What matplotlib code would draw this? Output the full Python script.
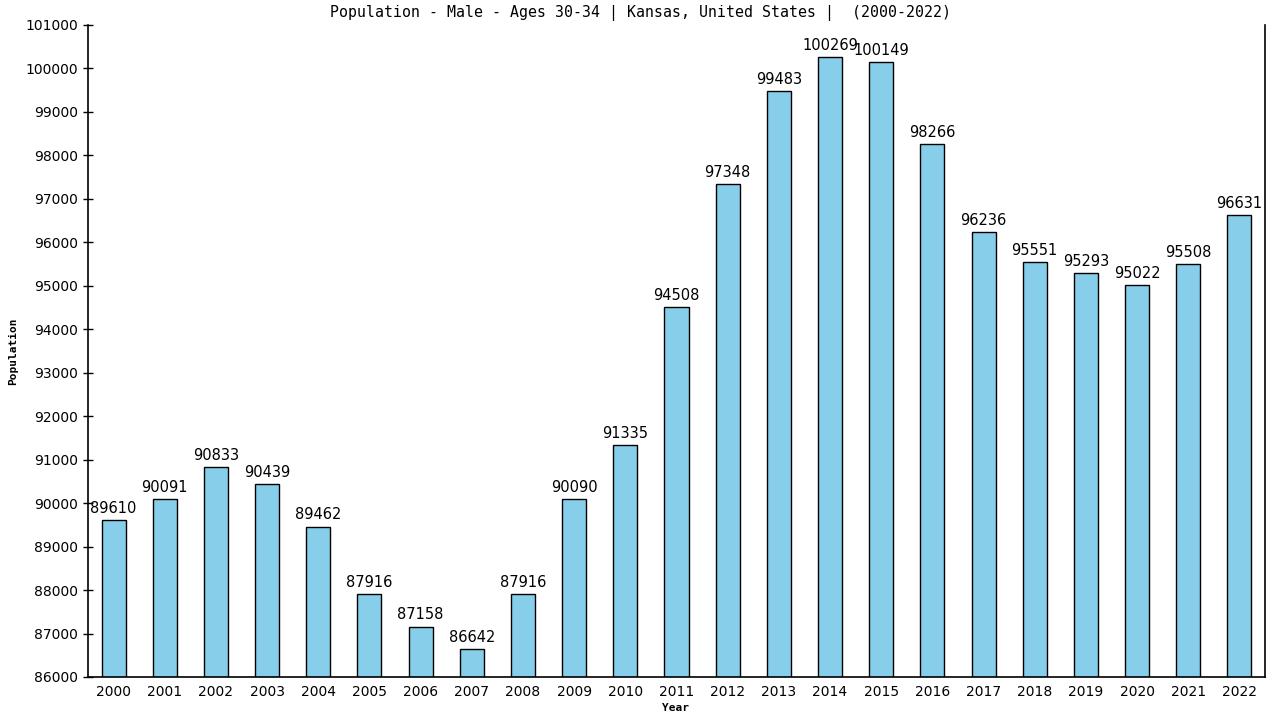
import matplotlib
matplotlib.use("Agg")
import matplotlib.pyplot as plt

years = [str(y) for y in range(2000, 2023)]
values = [89610, 90091, 90833, 90439, 89462, 87916, 87158, 86642, 87916, 90090,
          91335, 94508, 97348, 99483, 100269, 100149, 98266, 96236, 95551, 95293,
          95022, 95508, 96631]
yticks = list(range(86000, 101001, 1000))

fig = plt.figure(figsize=(12.8, 7.2), dpi=100)
ax = fig.add_axes([88/1280, 1-677/720, (1265-88)/1280, (677-25)/720])
x = list(range(len(years)))
ax.bar(x, values, width=0.47, color="#87ceeb", edgecolor="black", linewidth=1.0)
for xi, v in zip(x, values):
    ax.annotate(str(v), (xi, v), xytext=(0, 3), textcoords="offset points",
                ha="center", va="bottom", fontsize=10.5, family="DejaVu Sans")
ax.set_xlim(-0.5, len(years) - 0.5)
ax.set_ylim(86000, 101000)
ax.set_yticks(yticks)
ax.set_yticklabels([str(t) for t in yticks], fontsize=10)
ax.set_xticks(x)
ax.set_xticklabels(years, fontsize=10)
ax.tick_params(axis="y", direction="inout", length=7, width=1)
ax.tick_params(axis="x", length=0, pad=6)
ax.spines["top"].set_visible(False)
for s in ["left", "right", "bottom"]:
    ax.spines[s].set_linewidth(1.2)
fig.text(640/1280, 1-13/720, "Population - Male - Ages 30-34 | Kansas, United States |  (2000-2022)",
         ha="center", va="center", fontsize=10.75, family="DejaVu Sans Mono")
fig.text(13/1280, 1-351/720, "Population", rotation=90, ha="center", va="center",
         fontsize=8, family="DejaVu Sans Mono", fontweight="bold")
fig.text(676/1280, 1-708/720, "Year", ha="center", va="center",
         fontsize=8, family="DejaVu Sans Mono", fontweight="bold")
fig.savefig("out.png", dpi=100)
